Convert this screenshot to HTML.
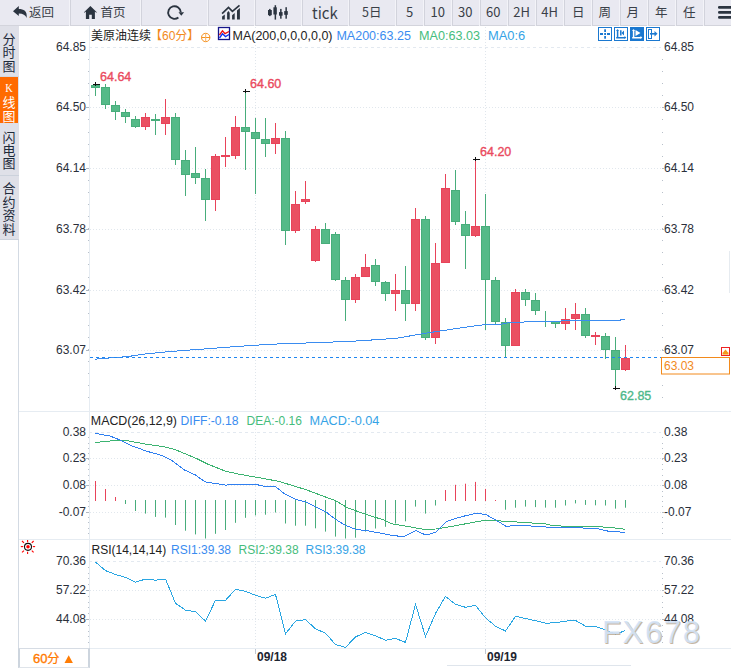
<!DOCTYPE html>
<html><head><meta charset="utf-8"><style>
html,body{margin:0;padding:0;background:#fff;width:731px;height:668px;overflow:hidden;position:relative}
#tb{position:absolute;left:0;top:0;width:731px;height:25px;background:#e9e9f1;border-bottom:1px solid #d3d4dc}
.tt{position:absolute;top:-1px;height:25px;line-height:25px;color:#3a3f48;font-family:"Noto Sans CJK SC","Liberation Sans",sans-serif;white-space:nowrap}
#sb{position:absolute;left:0;top:26px;width:19px;height:213px;background:#dfe0e8;border-bottom:1px solid #ccd2dc}
.tab{position:absolute;left:0;width:18px;text-align:center;font-family:"Noto Sans CJK SC",sans-serif;font-size:13px;line-height:13px;color:#1e2a3a}
svg text{font-family:"Liberation Sans",Arial,sans-serif}
.ax{font-size:12px;fill:#2a2f3a}
.hd{font-size:12px;fill:#222}
.cjk{font-family:"Liberation Sans","Noto Sans CJK SC",sans-serif !important}
.hi{font-size:12.5px;fill:#ea4a5e;stroke:#ea4a5e;stroke-width:0.35px}
.lo{font-size:12.5px;fill:#4db88a;stroke:#4db88a;stroke-width:0.35px}
.tag{font-size:12px;fill:#f28a1c}
.dt{font-size:12px;font-weight:bold;fill:#1e2530}
.wm{font-size:31px;letter-spacing:1.7px;font-family:"Liberation Sans",Arial,sans-serif}
</style></head><body>
<svg style="position:absolute;left:0;top:0" width="731" height="668" viewBox="0 0 731 668">
<rect x="18" y="239" width="1" height="429" fill="#d3dae3"/>
<rect x="89" y="26" width="1" height="622" fill="#e6ecf2"/>
<rect x="19" y="411" width="712" height="1" fill="#e6ecf2"/>
<rect x="19" y="539" width="712" height="1" fill="#e6ecf2"/>
<rect x="19" y="648" width="712" height="1" fill="#e6ecf2"/>
<line x1="89" y1="47.5" x2="661" y2="47.5" stroke="#e3e9f0" stroke-width="1" stroke-dasharray="3 3"/>
<line x1="90" y1="107.5" x2="661" y2="107.5" stroke="#e1e7ed" stroke-width="1" stroke-dasharray="1 2"/>
<line x1="90" y1="168.5" x2="661" y2="168.5" stroke="#e1e7ed" stroke-width="1" stroke-dasharray="1 2"/>
<line x1="90" y1="229.5" x2="661" y2="229.5" stroke="#e1e7ed" stroke-width="1" stroke-dasharray="1 2"/>
<line x1="90" y1="290.5" x2="661" y2="290.5" stroke="#e1e7ed" stroke-width="1" stroke-dasharray="1 2"/>
<line x1="90" y1="350.5" x2="661" y2="350.5" stroke="#e1e7ed" stroke-width="1" stroke-dasharray="1 2"/>
<line x1="89" y1="432.5" x2="661" y2="432.5" stroke="#e3e9f0" stroke-width="1" stroke-dasharray="3 3"/>
<line x1="90" y1="458.5" x2="661" y2="458.5" stroke="#e1e7ed" stroke-width="1" stroke-dasharray="1 2"/>
<line x1="90" y1="485.5" x2="661" y2="485.5" stroke="#e1e7ed" stroke-width="1" stroke-dasharray="1 2"/>
<line x1="90" y1="512.5" x2="661" y2="512.5" stroke="#e1e7ed" stroke-width="1" stroke-dasharray="1 2"/>
<line x1="89" y1="561.5" x2="661" y2="561.5" stroke="#e3e9f0" stroke-width="1" stroke-dasharray="3 3"/>
<line x1="90" y1="590.5" x2="661" y2="590.5" stroke="#e1e7ed" stroke-width="1" stroke-dasharray="1 2"/>
<line x1="90" y1="619.5" x2="661" y2="619.5" stroke="#e1e7ed" stroke-width="1" stroke-dasharray="1 2"/>
<line x1="255.5" y1="27" x2="255.5" y2="648" stroke="#e0e6ec" stroke-width="1" stroke-dasharray="1 2"/>
<rect x="255" y="649" width="1" height="5" fill="#c0c8d2"/>
<line x1="485.5" y1="27" x2="485.5" y2="648" stroke="#e0e6ec" stroke-width="1" stroke-dasharray="1 2"/>
<rect x="485" y="649" width="1" height="5" fill="#c0c8d2"/>
<rect x="88" y="59" width="1" height="1" fill="#b8c0ca"/>
<rect x="662" y="59" width="1" height="1" fill="#b8c0ca"/>
<rect x="88" y="71" width="1" height="1" fill="#b8c0ca"/>
<rect x="662" y="71" width="1" height="1" fill="#b8c0ca"/>
<rect x="88" y="83" width="1" height="1" fill="#b8c0ca"/>
<rect x="662" y="83" width="1" height="1" fill="#b8c0ca"/>
<rect x="88" y="95" width="1" height="1" fill="#b8c0ca"/>
<rect x="662" y="95" width="1" height="1" fill="#b8c0ca"/>
<rect x="88" y="107" width="1" height="1" fill="#b8c0ca"/>
<rect x="662" y="107" width="1" height="1" fill="#b8c0ca"/>
<rect x="88" y="119" width="1" height="1" fill="#b8c0ca"/>
<rect x="662" y="119" width="1" height="1" fill="#b8c0ca"/>
<rect x="88" y="132" width="1" height="1" fill="#b8c0ca"/>
<rect x="662" y="132" width="1" height="1" fill="#b8c0ca"/>
<rect x="88" y="144" width="1" height="1" fill="#b8c0ca"/>
<rect x="662" y="144" width="1" height="1" fill="#b8c0ca"/>
<rect x="88" y="156" width="1" height="1" fill="#b8c0ca"/>
<rect x="662" y="156" width="1" height="1" fill="#b8c0ca"/>
<rect x="88" y="168" width="1" height="1" fill="#b8c0ca"/>
<rect x="662" y="168" width="1" height="1" fill="#b8c0ca"/>
<rect x="88" y="180" width="1" height="1" fill="#b8c0ca"/>
<rect x="662" y="180" width="1" height="1" fill="#b8c0ca"/>
<rect x="88" y="192" width="1" height="1" fill="#b8c0ca"/>
<rect x="662" y="192" width="1" height="1" fill="#b8c0ca"/>
<rect x="88" y="204" width="1" height="1" fill="#b8c0ca"/>
<rect x="662" y="204" width="1" height="1" fill="#b8c0ca"/>
<rect x="88" y="216" width="1" height="1" fill="#b8c0ca"/>
<rect x="662" y="216" width="1" height="1" fill="#b8c0ca"/>
<rect x="88" y="228" width="1" height="1" fill="#b8c0ca"/>
<rect x="662" y="228" width="1" height="1" fill="#b8c0ca"/>
<rect x="88" y="240" width="1" height="1" fill="#b8c0ca"/>
<rect x="662" y="240" width="1" height="1" fill="#b8c0ca"/>
<rect x="88" y="252" width="1" height="1" fill="#b8c0ca"/>
<rect x="662" y="252" width="1" height="1" fill="#b8c0ca"/>
<rect x="88" y="264" width="1" height="1" fill="#b8c0ca"/>
<rect x="662" y="264" width="1" height="1" fill="#b8c0ca"/>
<rect x="88" y="277" width="1" height="1" fill="#b8c0ca"/>
<rect x="662" y="277" width="1" height="1" fill="#b8c0ca"/>
<rect x="88" y="289" width="1" height="1" fill="#b8c0ca"/>
<rect x="662" y="289" width="1" height="1" fill="#b8c0ca"/>
<rect x="88" y="301" width="1" height="1" fill="#b8c0ca"/>
<rect x="662" y="301" width="1" height="1" fill="#b8c0ca"/>
<rect x="88" y="313" width="1" height="1" fill="#b8c0ca"/>
<rect x="662" y="313" width="1" height="1" fill="#b8c0ca"/>
<rect x="88" y="325" width="1" height="1" fill="#b8c0ca"/>
<rect x="662" y="325" width="1" height="1" fill="#b8c0ca"/>
<rect x="88" y="337" width="1" height="1" fill="#b8c0ca"/>
<rect x="662" y="337" width="1" height="1" fill="#b8c0ca"/>
<rect x="88" y="349" width="1" height="1" fill="#b8c0ca"/>
<rect x="662" y="349" width="1" height="1" fill="#b8c0ca"/>
<rect x="88" y="361" width="1" height="1" fill="#b8c0ca"/>
<rect x="662" y="361" width="1" height="1" fill="#b8c0ca"/>
<rect x="88" y="373" width="1" height="1" fill="#b8c0ca"/>
<rect x="662" y="373" width="1" height="1" fill="#b8c0ca"/>
<rect x="88" y="385" width="1" height="1" fill="#b8c0ca"/>
<rect x="662" y="385" width="1" height="1" fill="#b8c0ca"/>
<rect x="88" y="397" width="1" height="1" fill="#b8c0ca"/>
<rect x="662" y="397" width="1" height="1" fill="#b8c0ca"/>
<rect x="86" y="107" width="3" height="1" fill="#b0b8c2"/>
<rect x="662" y="107" width="2" height="1" fill="#b0b8c2"/>
<rect x="86" y="168" width="3" height="1" fill="#b0b8c2"/>
<rect x="662" y="168" width="2" height="1" fill="#b0b8c2"/>
<rect x="86" y="229" width="3" height="1" fill="#b0b8c2"/>
<rect x="662" y="229" width="2" height="1" fill="#b0b8c2"/>
<rect x="86" y="290" width="3" height="1" fill="#b0b8c2"/>
<rect x="662" y="290" width="2" height="1" fill="#b0b8c2"/>
<rect x="86" y="350" width="3" height="1" fill="#b0b8c2"/>
<rect x="662" y="350" width="2" height="1" fill="#b0b8c2"/>
<rect x="88" y="437" width="1" height="1" fill="#b8c0ca"/>
<rect x="662" y="437" width="1" height="1" fill="#b8c0ca"/>
<rect x="88" y="443" width="1" height="1" fill="#b8c0ca"/>
<rect x="662" y="443" width="1" height="1" fill="#b8c0ca"/>
<rect x="88" y="448" width="1" height="1" fill="#b8c0ca"/>
<rect x="662" y="448" width="1" height="1" fill="#b8c0ca"/>
<rect x="88" y="453" width="1" height="1" fill="#b8c0ca"/>
<rect x="662" y="453" width="1" height="1" fill="#b8c0ca"/>
<rect x="88" y="459" width="1" height="1" fill="#b8c0ca"/>
<rect x="662" y="459" width="1" height="1" fill="#b8c0ca"/>
<rect x="88" y="464" width="1" height="1" fill="#b8c0ca"/>
<rect x="662" y="464" width="1" height="1" fill="#b8c0ca"/>
<rect x="88" y="469" width="1" height="1" fill="#b8c0ca"/>
<rect x="662" y="469" width="1" height="1" fill="#b8c0ca"/>
<rect x="88" y="475" width="1" height="1" fill="#b8c0ca"/>
<rect x="662" y="475" width="1" height="1" fill="#b8c0ca"/>
<rect x="88" y="480" width="1" height="1" fill="#b8c0ca"/>
<rect x="662" y="480" width="1" height="1" fill="#b8c0ca"/>
<rect x="88" y="485" width="1" height="1" fill="#b8c0ca"/>
<rect x="662" y="485" width="1" height="1" fill="#b8c0ca"/>
<rect x="88" y="491" width="1" height="1" fill="#b8c0ca"/>
<rect x="662" y="491" width="1" height="1" fill="#b8c0ca"/>
<rect x="88" y="496" width="1" height="1" fill="#b8c0ca"/>
<rect x="662" y="496" width="1" height="1" fill="#b8c0ca"/>
<rect x="88" y="501" width="1" height="1" fill="#b8c0ca"/>
<rect x="662" y="501" width="1" height="1" fill="#b8c0ca"/>
<rect x="88" y="506" width="1" height="1" fill="#b8c0ca"/>
<rect x="662" y="506" width="1" height="1" fill="#b8c0ca"/>
<rect x="88" y="512" width="1" height="1" fill="#b8c0ca"/>
<rect x="662" y="512" width="1" height="1" fill="#b8c0ca"/>
<rect x="88" y="517" width="1" height="1" fill="#b8c0ca"/>
<rect x="662" y="517" width="1" height="1" fill="#b8c0ca"/>
<rect x="88" y="522" width="1" height="1" fill="#b8c0ca"/>
<rect x="662" y="522" width="1" height="1" fill="#b8c0ca"/>
<rect x="88" y="528" width="1" height="1" fill="#b8c0ca"/>
<rect x="662" y="528" width="1" height="1" fill="#b8c0ca"/>
<rect x="88" y="533" width="1" height="1" fill="#b8c0ca"/>
<rect x="662" y="533" width="1" height="1" fill="#b8c0ca"/>
<rect x="86" y="458" width="3" height="1" fill="#b0b8c2"/>
<rect x="662" y="458" width="2" height="1" fill="#b0b8c2"/>
<rect x="86" y="485" width="3" height="1" fill="#b0b8c2"/>
<rect x="662" y="485" width="2" height="1" fill="#b0b8c2"/>
<rect x="86" y="512" width="3" height="1" fill="#b0b8c2"/>
<rect x="662" y="512" width="2" height="1" fill="#b0b8c2"/>
<rect x="88" y="567" width="1" height="1" fill="#b8c0ca"/>
<rect x="662" y="567" width="1" height="1" fill="#b8c0ca"/>
<rect x="88" y="573" width="1" height="1" fill="#b8c0ca"/>
<rect x="662" y="573" width="1" height="1" fill="#b8c0ca"/>
<rect x="88" y="578" width="1" height="1" fill="#b8c0ca"/>
<rect x="662" y="578" width="1" height="1" fill="#b8c0ca"/>
<rect x="88" y="584" width="1" height="1" fill="#b8c0ca"/>
<rect x="662" y="584" width="1" height="1" fill="#b8c0ca"/>
<rect x="88" y="590" width="1" height="1" fill="#b8c0ca"/>
<rect x="662" y="590" width="1" height="1" fill="#b8c0ca"/>
<rect x="88" y="596" width="1" height="1" fill="#b8c0ca"/>
<rect x="662" y="596" width="1" height="1" fill="#b8c0ca"/>
<rect x="88" y="602" width="1" height="1" fill="#b8c0ca"/>
<rect x="662" y="602" width="1" height="1" fill="#b8c0ca"/>
<rect x="88" y="607" width="1" height="1" fill="#b8c0ca"/>
<rect x="662" y="607" width="1" height="1" fill="#b8c0ca"/>
<rect x="88" y="613" width="1" height="1" fill="#b8c0ca"/>
<rect x="662" y="613" width="1" height="1" fill="#b8c0ca"/>
<rect x="88" y="619" width="1" height="1" fill="#b8c0ca"/>
<rect x="662" y="619" width="1" height="1" fill="#b8c0ca"/>
<rect x="88" y="625" width="1" height="1" fill="#b8c0ca"/>
<rect x="662" y="625" width="1" height="1" fill="#b8c0ca"/>
<rect x="88" y="631" width="1" height="1" fill="#b8c0ca"/>
<rect x="662" y="631" width="1" height="1" fill="#b8c0ca"/>
<rect x="88" y="636" width="1" height="1" fill="#b8c0ca"/>
<rect x="662" y="636" width="1" height="1" fill="#b8c0ca"/>
<rect x="88" y="642" width="1" height="1" fill="#b8c0ca"/>
<rect x="662" y="642" width="1" height="1" fill="#b8c0ca"/>
<rect x="86" y="590" width="3" height="1" fill="#b0b8c2"/>
<rect x="662" y="590" width="2" height="1" fill="#b0b8c2"/>
<rect x="86" y="619" width="3" height="1" fill="#b0b8c2"/>
<rect x="662" y="619" width="2" height="1" fill="#b0b8c2"/>
<text x="86" y="51.3" text-anchor="end" class="ax">64.85</text>
<text x="664" y="51.3" text-anchor="start" class="ax">64.85</text>
<text x="86" y="111.3" text-anchor="end" class="ax">64.50</text>
<text x="664" y="111.3" text-anchor="start" class="ax">64.50</text>
<text x="86" y="172.3" text-anchor="end" class="ax">64.14</text>
<text x="664" y="172.3" text-anchor="start" class="ax">64.14</text>
<text x="86" y="233.3" text-anchor="end" class="ax">63.78</text>
<text x="664" y="233.3" text-anchor="start" class="ax">63.78</text>
<text x="86" y="294.3" text-anchor="end" class="ax">63.42</text>
<text x="664" y="294.3" text-anchor="start" class="ax">63.42</text>
<text x="86" y="354.3" text-anchor="end" class="ax">63.07</text>
<text x="664" y="354.3" text-anchor="start" class="ax">63.07</text>
<text x="86" y="436.3" text-anchor="end" class="ax">0.38</text>
<text x="664" y="436.3" text-anchor="start" class="ax">0.38</text>
<text x="86" y="462.3" text-anchor="end" class="ax">0.23</text>
<text x="664" y="462.3" text-anchor="start" class="ax">0.23</text>
<text x="86" y="489.3" text-anchor="end" class="ax">0.08</text>
<text x="664" y="489.3" text-anchor="start" class="ax">0.08</text>
<text x="86" y="516.3" text-anchor="end" class="ax">-0.07</text>
<text x="664" y="516.3" text-anchor="start" class="ax">-0.07</text>
<text x="86" y="565.3" text-anchor="end" class="ax">70.36</text>
<text x="664" y="565.3" text-anchor="start" class="ax">70.36</text>
<text x="86" y="594.3" text-anchor="end" class="ax">57.22</text>
<text x="664" y="594.3" text-anchor="start" class="ax">57.22</text>
<text x="86" y="623.3" text-anchor="end" class="ax">44.08</text>
<text x="664" y="623.3" text-anchor="start" class="ax">44.08</text>
<rect x="95" y="84" width="1" height="12" fill="#48ad7b"/>
<rect x="91.5" y="85.5" width="8" height="2" fill="#55ba88" stroke="#48ad7b" stroke-width="1"/>
<rect x="105" y="84" width="1" height="25" fill="#48ad7b"/>
<rect x="101.5" y="87.5" width="8" height="17" fill="#55ba88" stroke="#48ad7b" stroke-width="1"/>
<rect x="115" y="101" width="1" height="19" fill="#48ad7b"/>
<rect x="111.5" y="105.5" width="8" height="6" fill="#55ba88" stroke="#48ad7b" stroke-width="1"/>
<rect x="125" y="109" width="1" height="14" fill="#48ad7b"/>
<rect x="121.5" y="112.5" width="8" height="4" fill="#55ba88" stroke="#48ad7b" stroke-width="1"/>
<rect x="135" y="116" width="1" height="12" fill="#48ad7b"/>
<rect x="131.5" y="119.5" width="8" height="7" fill="#55ba88" stroke="#48ad7b" stroke-width="1"/>
<rect x="145" y="113" width="1" height="17" fill="#e8435a"/>
<rect x="141.5" y="117.5" width="8" height="9" fill="#ea5062" stroke="#e8435a" stroke-width="1"/>
<rect x="155" y="114" width="1" height="21" fill="#48ad7b"/>
<rect x="151" y="119" width="9" height="2" fill="#48ad7b"/>
<rect x="165" y="99" width="1" height="36" fill="#e8435a"/>
<rect x="161.5" y="117.5" width="8" height="6" fill="#ea5062" stroke="#e8435a" stroke-width="1"/>
<rect x="175" y="113" width="1" height="52" fill="#48ad7b"/>
<rect x="171.5" y="117.5" width="8" height="42" fill="#55ba88" stroke="#48ad7b" stroke-width="1"/>
<rect x="185" y="150" width="1" height="46" fill="#48ad7b"/>
<rect x="181.5" y="160.5" width="8" height="14" fill="#55ba88" stroke="#48ad7b" stroke-width="1"/>
<rect x="195" y="147" width="1" height="37" fill="#48ad7b"/>
<rect x="191.5" y="173.5" width="8" height="4" fill="#55ba88" stroke="#48ad7b" stroke-width="1"/>
<rect x="205" y="169" width="1" height="52" fill="#48ad7b"/>
<rect x="201.5" y="178.5" width="8" height="21" fill="#55ba88" stroke="#48ad7b" stroke-width="1"/>
<rect x="215" y="154" width="1" height="57" fill="#e8435a"/>
<rect x="211.5" y="156.5" width="8" height="43" fill="#ea5062" stroke="#e8435a" stroke-width="1"/>
<rect x="225" y="137" width="1" height="30" fill="#e8435a"/>
<rect x="221" y="155" width="9" height="2" fill="#e8435a"/>
<rect x="235" y="116" width="1" height="43" fill="#e8435a"/>
<rect x="231.5" y="127.5" width="8" height="28" fill="#ea5062" stroke="#e8435a" stroke-width="1"/>
<rect x="245" y="91" width="1" height="79" fill="#48ad7b"/>
<rect x="241.5" y="127.5" width="8" height="4" fill="#55ba88" stroke="#48ad7b" stroke-width="1"/>
<rect x="255" y="118" width="1" height="76" fill="#48ad7b"/>
<rect x="251.5" y="132.5" width="8" height="6" fill="#55ba88" stroke="#48ad7b" stroke-width="1"/>
<rect x="265" y="118" width="1" height="39" fill="#48ad7b"/>
<rect x="261.5" y="139.5" width="8" height="4" fill="#55ba88" stroke="#48ad7b" stroke-width="1"/>
<rect x="275" y="123" width="1" height="31" fill="#e8435a"/>
<rect x="271.5" y="138.5" width="8" height="5" fill="#ea5062" stroke="#e8435a" stroke-width="1"/>
<rect x="285" y="131" width="1" height="114" fill="#48ad7b"/>
<rect x="281.5" y="138.5" width="8" height="92" fill="#55ba88" stroke="#48ad7b" stroke-width="1"/>
<rect x="295" y="191" width="1" height="42" fill="#e8435a"/>
<rect x="291.5" y="204.5" width="8" height="26" fill="#ea5062" stroke="#e8435a" stroke-width="1"/>
<rect x="305" y="181" width="1" height="23" fill="#e8435a"/>
<rect x="301.5" y="199.5" width="8" height="2" fill="#ea5062" stroke="#e8435a" stroke-width="1"/>
<rect x="315" y="226" width="1" height="36" fill="#e8435a"/>
<rect x="311.5" y="229.5" width="8" height="31" fill="#ea5062" stroke="#e8435a" stroke-width="1"/>
<rect x="325" y="223" width="1" height="21" fill="#48ad7b"/>
<rect x="321.5" y="229.5" width="8" height="14" fill="#55ba88" stroke="#48ad7b" stroke-width="1"/>
<rect x="335" y="232" width="1" height="49" fill="#48ad7b"/>
<rect x="331.5" y="234.5" width="8" height="45" fill="#55ba88" stroke="#48ad7b" stroke-width="1"/>
<rect x="345" y="277" width="1" height="44" fill="#48ad7b"/>
<rect x="341.5" y="280.5" width="8" height="19" fill="#55ba88" stroke="#48ad7b" stroke-width="1"/>
<rect x="355" y="274" width="1" height="29" fill="#e8435a"/>
<rect x="351.5" y="277.5" width="8" height="22" fill="#ea5062" stroke="#e8435a" stroke-width="1"/>
<rect x="365" y="254" width="1" height="23" fill="#e8435a"/>
<rect x="361.5" y="267.5" width="8" height="9" fill="#ea5062" stroke="#e8435a" stroke-width="1"/>
<rect x="375" y="259" width="1" height="27" fill="#48ad7b"/>
<rect x="371.5" y="265.5" width="8" height="16" fill="#55ba88" stroke="#48ad7b" stroke-width="1"/>
<rect x="385" y="281" width="1" height="20" fill="#48ad7b"/>
<rect x="381.5" y="282.5" width="8" height="11" fill="#55ba88" stroke="#48ad7b" stroke-width="1"/>
<rect x="395" y="274" width="1" height="37" fill="#e8435a"/>
<rect x="391.5" y="290.5" width="8" height="3" fill="#ea5062" stroke="#e8435a" stroke-width="1"/>
<rect x="405" y="266" width="1" height="55" fill="#48ad7b"/>
<rect x="401.5" y="290.5" width="8" height="13" fill="#55ba88" stroke="#48ad7b" stroke-width="1"/>
<rect x="415" y="208" width="1" height="103" fill="#e8435a"/>
<rect x="411.5" y="219.5" width="8" height="84" fill="#ea5062" stroke="#e8435a" stroke-width="1"/>
<rect x="425" y="216" width="1" height="124" fill="#48ad7b"/>
<rect x="421.5" y="219.5" width="8" height="118" fill="#55ba88" stroke="#48ad7b" stroke-width="1"/>
<rect x="435" y="243" width="1" height="101" fill="#e8435a"/>
<rect x="431.5" y="263.5" width="8" height="74" fill="#ea5062" stroke="#e8435a" stroke-width="1"/>
<rect x="445" y="174" width="1" height="89" fill="#e8435a"/>
<rect x="441.5" y="188.5" width="8" height="74" fill="#ea5062" stroke="#e8435a" stroke-width="1"/>
<rect x="455" y="170" width="1" height="55" fill="#48ad7b"/>
<rect x="451.5" y="190.5" width="8" height="31" fill="#55ba88" stroke="#48ad7b" stroke-width="1"/>
<rect x="465" y="211" width="1" height="58" fill="#48ad7b"/>
<rect x="461.5" y="224.5" width="8" height="11" fill="#55ba88" stroke="#48ad7b" stroke-width="1"/>
<rect x="475" y="159" width="1" height="78" fill="#e8435a"/>
<rect x="471.5" y="226.5" width="8" height="9" fill="#ea5062" stroke="#e8435a" stroke-width="1"/>
<rect x="485" y="194" width="1" height="136" fill="#48ad7b"/>
<rect x="481.5" y="226.5" width="8" height="53" fill="#55ba88" stroke="#48ad7b" stroke-width="1"/>
<rect x="495" y="277" width="1" height="47" fill="#48ad7b"/>
<rect x="491.5" y="280.5" width="8" height="41" fill="#55ba88" stroke="#48ad7b" stroke-width="1"/>
<rect x="505" y="318" width="1" height="40" fill="#48ad7b"/>
<rect x="501.5" y="322.5" width="8" height="23" fill="#55ba88" stroke="#48ad7b" stroke-width="1"/>
<rect x="515" y="289" width="1" height="57" fill="#e8435a"/>
<rect x="511.5" y="292.5" width="8" height="53" fill="#ea5062" stroke="#e8435a" stroke-width="1"/>
<rect x="525" y="289" width="1" height="17" fill="#48ad7b"/>
<rect x="521.5" y="292.5" width="8" height="7" fill="#55ba88" stroke="#48ad7b" stroke-width="1"/>
<rect x="535" y="293" width="1" height="22" fill="#48ad7b"/>
<rect x="531.5" y="300.5" width="8" height="10" fill="#55ba88" stroke="#48ad7b" stroke-width="1"/>
<rect x="545" y="311" width="1" height="16" fill="#48ad7b"/>
<rect x="541" y="321" width="9" height="1" fill="#48ad7b"/>
<rect x="555" y="321" width="1" height="7" fill="#48ad7b"/>
<rect x="551.5" y="321.5" width="8" height="2" fill="#55ba88" stroke="#48ad7b" stroke-width="1"/>
<rect x="565" y="308" width="1" height="22" fill="#e8435a"/>
<rect x="561.5" y="319.5" width="8" height="4" fill="#ea5062" stroke="#e8435a" stroke-width="1"/>
<rect x="575" y="303" width="1" height="27" fill="#e8435a"/>
<rect x="571.5" y="314.5" width="8" height="4" fill="#ea5062" stroke="#e8435a" stroke-width="1"/>
<rect x="585" y="308" width="1" height="30" fill="#48ad7b"/>
<rect x="581.5" y="314.5" width="8" height="21" fill="#55ba88" stroke="#48ad7b" stroke-width="1"/>
<rect x="595" y="332" width="1" height="13" fill="#e8435a"/>
<rect x="591" y="335" width="9" height="2" fill="#e8435a"/>
<rect x="605" y="333" width="1" height="26" fill="#48ad7b"/>
<rect x="601.5" y="336.5" width="8" height="13" fill="#55ba88" stroke="#48ad7b" stroke-width="1"/>
<rect x="615" y="337" width="1" height="51" fill="#48ad7b"/>
<rect x="611.5" y="350.5" width="8" height="19" fill="#55ba88" stroke="#48ad7b" stroke-width="1"/>
<rect x="625" y="345" width="1" height="26" fill="#e8435a"/>
<rect x="621.5" y="358.5" width="8" height="11" fill="#ea5062" stroke="#e8435a" stroke-width="1"/>
<polyline points="95.0,359.2 129.0,356.4 143.0,354.2 170.0,351.5 197.0,349.5 225.0,347.4 252.0,345.4 288.0,343.4 315.0,342.8 359.0,340.9 397.0,338.2 425.0,333.3 452.0,329.2 478.0,325.4 488.0,324.3 500.0,324.3 510.0,322.5 530.0,321.8 560.0,321.5 562.0,320.7 620.0,320.5 621.0,319.6 625.0,319.4" fill="none" stroke="#3a8cf0" stroke-width="1" shape-rendering="crispEdges"/>
<line x1="90" y1="357.5" x2="661" y2="357.5" stroke="#1f86f0" stroke-width="1" stroke-dasharray="3 3"/>
<rect x="93" y="84" width="7" height="1" fill="#111"/>
<rect x="95" y="82" width="1" height="4" fill="#111"/>
<rect x="243" y="91" width="7" height="1" fill="#111"/>
<rect x="245" y="89" width="1" height="4" fill="#111"/>
<rect x="473" y="159" width="7" height="1" fill="#111"/>
<rect x="475" y="157" width="1" height="4" fill="#111"/>
<rect x="613" y="388" width="7" height="1" fill="#111"/>
<rect x="615" y="386" width="1" height="4" fill="#111"/>
<text x="100" y="81" class="hi">64.64</text>
<text x="250" y="88" class="hi">64.60</text>
<text x="480" y="156" class="hi">64.20</text>
<text x="620" y="400" class="lo">62.85</text>
<rect x="661.5" y="357.5" width="68" height="16.5" fill="#fff" stroke="#f28a1c" stroke-width="1"/>
<text x="664" y="370" class="tag">63.03</text>
<rect x="721.5" y="347.5" width="8" height="8" fill="#fff" stroke="#ee2222" stroke-width="1"/>
<path d="M722.6 353 L725.5 349.6 L728.4 353 Z" fill="#f39a1d"/><rect x="722.5" y="352.6" width="6" height="2" fill="#f39a1d"/>
<rect x="95" y="481.0" width="1" height="20.0" fill="#e8435a"/>
<rect x="105" y="489.0" width="1" height="12.0" fill="#e8435a"/>
<rect x="115" y="497.0" width="1" height="4.0" fill="#e8435a"/>
<rect x="125" y="500" width="1" height="4.0" fill="#48ad7b"/>
<rect x="135" y="500" width="1" height="11.0" fill="#48ad7b"/>
<rect x="145" y="500" width="1" height="13.6" fill="#48ad7b"/>
<rect x="155" y="500" width="1" height="16.9" fill="#48ad7b"/>
<rect x="165" y="500" width="1" height="17.6" fill="#48ad7b"/>
<rect x="175" y="500" width="1" height="25.0" fill="#48ad7b"/>
<rect x="185" y="500" width="1" height="30.7" fill="#48ad7b"/>
<rect x="195" y="500" width="1" height="34.4" fill="#48ad7b"/>
<rect x="205" y="500" width="1" height="38.5" fill="#48ad7b"/>
<rect x="215" y="500" width="1" height="33.8" fill="#48ad7b"/>
<rect x="225" y="500" width="1" height="30.0" fill="#48ad7b"/>
<rect x="235" y="500" width="1" height="22.8" fill="#48ad7b"/>
<rect x="245" y="500" width="1" height="17.8" fill="#48ad7b"/>
<rect x="255" y="500" width="1" height="15.4" fill="#48ad7b"/>
<rect x="265" y="500" width="1" height="14.7" fill="#48ad7b"/>
<rect x="275" y="500" width="1" height="12.5" fill="#48ad7b"/>
<rect x="285" y="500" width="1" height="23.5" fill="#48ad7b"/>
<rect x="295" y="500" width="1" height="25.7" fill="#48ad7b"/>
<rect x="305" y="500" width="1" height="25.7" fill="#48ad7b"/>
<rect x="315" y="500" width="1" height="28.3" fill="#48ad7b"/>
<rect x="325" y="500" width="1" height="31.6" fill="#48ad7b"/>
<rect x="335" y="500" width="1" height="36.6" fill="#48ad7b"/>
<rect x="345" y="500" width="1" height="38.5" fill="#48ad7b"/>
<rect x="355" y="500" width="1" height="37.7" fill="#48ad7b"/>
<rect x="365" y="500" width="1" height="31.6" fill="#48ad7b"/>
<rect x="375" y="500" width="1" height="28.5" fill="#48ad7b"/>
<rect x="385" y="500" width="1" height="26.8" fill="#48ad7b"/>
<rect x="395" y="500" width="1" height="23.5" fill="#48ad7b"/>
<rect x="405" y="500" width="1" height="21.3" fill="#48ad7b"/>
<rect x="415" y="500" width="1" height="6.6" fill="#48ad7b"/>
<rect x="425" y="500" width="1" height="13.6" fill="#48ad7b"/>
<rect x="435" y="500" width="1" height="5.5" fill="#48ad7b"/>
<rect x="445" y="490.0" width="1" height="11.0" fill="#e8435a"/>
<rect x="455" y="484.8" width="1" height="16.2" fill="#e8435a"/>
<rect x="465" y="483.7" width="1" height="17.3" fill="#e8435a"/>
<rect x="475" y="481.9" width="1" height="19.1" fill="#e8435a"/>
<rect x="485" y="488.9" width="1" height="12.1" fill="#e8435a"/>
<rect x="495" y="500.0" width="1" height="1.0" fill="#e8435a"/>
<rect x="505" y="500" width="1" height="9.7" fill="#48ad7b"/>
<rect x="515" y="500" width="1" height="7.7" fill="#48ad7b"/>
<rect x="525" y="500" width="1" height="6.6" fill="#48ad7b"/>
<rect x="535" y="500" width="1" height="7.1" fill="#48ad7b"/>
<rect x="545" y="500" width="1" height="7.6" fill="#48ad7b"/>
<rect x="555" y="500" width="1" height="7.7" fill="#48ad7b"/>
<rect x="565" y="500" width="1" height="5.5" fill="#48ad7b"/>
<rect x="575" y="500" width="1" height="3.4" fill="#48ad7b"/>
<rect x="585" y="500" width="1" height="4.9" fill="#48ad7b"/>
<rect x="595" y="500" width="1" height="5.3" fill="#48ad7b"/>
<rect x="605" y="500" width="1" height="5.5" fill="#48ad7b"/>
<rect x="615" y="500" width="1" height="8.6" fill="#48ad7b"/>
<rect x="625" y="500" width="1" height="7.7" fill="#48ad7b"/>
<polyline points="95.0,442.5 116.5,440.3 125.2,440.3 142.7,443.6 164.6,446.9 175.5,449.7 197.4,458.9 208.4,464.4 225.9,471.4 241.2,474.6 261.9,478.2 279.4,481.5 305.7,489.6 336.3,501.0 347.2,507.7 367.0,514.7 384.5,520.2 392.0,523.9 405.1,526.1 424.8,529.4 435.8,529.0 455.5,525.7 475.2,522.0 486.1,520.2 494.9,520.6 505.8,521.3 523.3,522.4 545.2,523.9 551.0,525.2 561.9,526.1 590.3,526.3 610.0,527.4 625.0,529.2" fill="none" stroke="#3cb371" stroke-width="1" shape-rendering="crispEdges"/>
<polyline points="95.0,433.3 109.9,436.0 120.8,440.3 131.8,445.8 147.0,451.3 162.4,455.6 171.2,460.0 184.3,469.9 195.2,474.9 205.1,481.9 214.9,483.4 225.9,485.2 232.5,484.1 248.0,484.1 256.4,484.5 264.1,486.3 275.0,486.3 284.9,494.0 295.8,499.4 305.7,502.0 325.4,511.5 335.2,519.1 345.1,525.2 356.0,529.4 367.0,530.7 384.5,533.8 392.0,535.5 404.0,536.6 415.6,530.5 425.9,535.1 435.8,532.2 446.7,521.3 455.5,518.5 465.3,515.8 476.3,513.2 486.1,514.7 496.0,520.2 505.8,526.1 525.5,525.7 545.2,526.8 551.0,527.9 570.6,527.4 581.6,527.9 599.1,529.0 610.0,531.6 625.0,532.2" fill="none" stroke="#2f7ff0" stroke-width="1" shape-rendering="crispEdges"/>
<polyline points="95.5,562.0 105.5,570.6 115.5,574.5 125.5,577.4 135.5,582.2 145.5,579.1 155.5,580.2 165.5,579.1 175.5,603.2 185.5,610.2 195.5,611.7 205.5,621.1 215.5,600.3 225.5,600.3 235.5,589.4 245.5,591.4 255.5,595.3 265.5,598.2 275.5,594.4 285.5,633.8 295.5,621.1 305.5,619.6 315.5,628.8 325.5,633.2 335.5,644.5 345.5,647.4 355.5,636.9 365.5,632.5 375.5,635.8 385.5,640.2 395.5,638.4 405.5,642.4 415.5,604.3 425.5,636.5 435.5,613.5 445.5,596.4 455.5,604.3 465.5,607.3 475.5,605.4 485.5,617.8 495.5,626.2 505.5,631.0 515.5,616.3 525.5,618.5 535.5,620.7 545.5,623.1 555.5,622.9 565.5,621.1 575.5,620.5 585.5,626.2 595.5,626.6 605.5,629.9 615.5,634.3 625.5,630.5" fill="none" stroke="#2aa6e2" stroke-width="1" shape-rendering="crispEdges"/>
<text x="91" y="40.2" class="hd cjk">美原油连续</text>
<text x="150" y="40.2" class="hd cjk" style="fill:#f28a1c">【60分】</text>
<circle cx="205.7" cy="37.5" r="4.2" fill="none" stroke="#f5901e" stroke-width="1"/>
<line x1="201.5" y1="37.5" x2="210" y2="37.5" stroke="#f5901e" stroke-width="1"/><line x1="205.7" y1="33.3" x2="205.7" y2="41.7" stroke="#f8b060" stroke-width="1"/>
<rect x="219" y="28" width="11" height="12" fill="#7a7a9a"/><rect x="218.5" y="27.5" width="11" height="12" fill="#fff" stroke="#15158a" stroke-width="1.3"/>
<polyline points="219.5,35 222.5,30.8 225,33.6 229,31.5" fill="none" stroke="#f01010" stroke-width="1.3"/>
<polyline points="219.5,38 222.5,33.8 225.5,36.6 229,34.5" fill="none" stroke="#1030f0" stroke-width="1.3"/>
<text x="232.5" y="39.5" class="hd" textLength="100" lengthAdjust="spacingAndGlyphs">MA(200,0,0,0,0,0)</text>
<text x="336.4" y="39.5" class="hd" style="fill:#3a8cf0" textLength="74.5" lengthAdjust="spacingAndGlyphs">MA200:63.25</text>
<text x="419" y="39.5" class="hd" style="fill:#45bd7c" textLength="61" lengthAdjust="spacingAndGlyphs">MA0:63.03</text>
<text x="488" y="39.5" class="hd" style="fill:#35a3e6" textLength="37.3" lengthAdjust="spacingAndGlyphs">MA0:6</text>
<text x="90.8" y="425" class="hd" textLength="86.2" lengthAdjust="spacingAndGlyphs">MACD(26,12,9)</text>
<text x="180.5" y="425" class="hd" style="fill:#3a8cf0" textLength="58" lengthAdjust="spacingAndGlyphs">DIFF:-0.18</text>
<text x="246.5" y="425" class="hd" style="fill:#45bd7c">DEA:-0.16</text>
<text x="309.6" y="425" class="hd" style="fill:#35a3e6" textLength="69.8" lengthAdjust="spacingAndGlyphs">MACD:-0.04</text>
<text x="91.5" y="554" class="hd">RSI(14,14,14)</text>
<text x="171" y="554" class="hd" style="fill:#3a8cf0">RSI1:39.38</text>
<text x="238.6" y="554" class="hd" style="fill:#45bd7c">RSI2:39.38</text>
<text x="305.5" y="554" class="hd" style="fill:#35a3e6">RSI3:39.38</text>
<circle cx="28" cy="546.85" r="3.5" fill="#fff" stroke="#111" stroke-width="1.1"/><circle cx="28" cy="546.85" r="1.75" fill="#f00"/>
<line x1="27.6" y1="540" x2="27.6" y2="542.2" stroke="#f00" stroke-width="1.1"/>
<line x1="27.6" y1="551.8" x2="27.6" y2="554" stroke="#f00" stroke-width="1.1"/>
<line x1="20.8" y1="546.6" x2="23.2" y2="546.6" stroke="#f00" stroke-width="1.1"/>
<line x1="32.8" y1="546.6" x2="35.1" y2="546.6" stroke="#f00" stroke-width="1.1"/>
<line x1="22" y1="541" x2="24" y2="542.9" stroke="#f00" stroke-width="1.1"/>
<line x1="33.6" y1="541" x2="31.8" y2="542.9" stroke="#f00" stroke-width="1.1"/>
<line x1="22" y1="552.4" x2="24" y2="550.6" stroke="#f00" stroke-width="1.1"/>
<line x1="33.6" y1="552.4" x2="31.8" y2="550.6" stroke="#f00" stroke-width="1.1"/>
<rect x="598.5" y="27.5" width="13" height="13" fill="#fff" stroke="#1a78d0" stroke-width="1"/>
<g fill="#1a78d0"><rect x="600" y="33" width="3" height="2"/><rect x="604.2" y="33" width="1.8" height="2"/><rect x="607" y="33" width="3" height="2"/><rect x="604.2" y="29.3" width="1.8" height="2.7"/><rect x="604.2" y="36" width="1.8" height="2.7"/></g>
<rect x="614.5" y="27.5" width="13" height="13" fill="#fff" stroke="#1a78d0" stroke-width="1"/>
<path d="M617.6 29.8v8.6M616.2 37.7h9M620.8 30.3v5.2" stroke="#1a78d0" stroke-width="1.5" fill="none"/><path d="M616 31l1.5-1.8 1.5 1.8zM624.5 36l1.8 1.5-1.8 1.5zM621.5 33l2.5-2.5v5z" fill="#1a78d0"/>
<rect x="630" y="27" width="14" height="14" fill="#1a78d0"/>
<path d="M633.6 29.8v8.6M632.2 37.7h9" stroke="#fff" stroke-width="1.5" fill="none"/><path d="M632 31l1.5-1.8 1.5 1.8zM640.5 36l1.8 1.5-1.8 1.5zM635.5 30v6l5-3z" fill="#fff"/>
<rect x="646.5" y="27.5" width="13" height="13" fill="#fff" stroke="#1a78d0" stroke-width="1"/>
<rect x="648.5" y="29.5" width="3" height="9" fill="none" stroke="#1a78d0" stroke-width="1"/><path d="M650 33.8h5" stroke="#1a78d0" stroke-width="1.6"/><path d="M654.5 31l3 2.8-3 2.8z" fill="#1a78d0"/>
<text x="257" y="661" class="dt">09/18</text>
<text x="487" y="661" class="dt">09/19</text>
<rect x="447" y="665" width="184" height="1" fill="#dfe5ec"/>
<rect x="729" y="251" width="1" height="42" fill="#e6ebf0"/>
<text x="602.9" y="643.6" class="wm" style="fill:#b9a48c;opacity:0.8">FX678</text>
<text x="601.9" y="642.6" class="wm" style="fill:#d3e3f7;opacity:0.9">FX678</text>
</svg>
<div id="tb">
<div style="position:absolute;left:69px;top:0;width:1px;height:26px;background:#f3f3f8"></div>
<div style="position:absolute;left:70px;top:0;width:1px;height:25px;background:#d2d3dc"></div>
<div style="position:absolute;left:140px;top:0;width:1px;height:26px;background:#f3f3f8"></div>
<div style="position:absolute;left:141px;top:0;width:1px;height:25px;background:#d2d3dc"></div>
<div style="position:absolute;left:207px;top:0;width:1px;height:26px;background:#f3f3f8"></div>
<div style="position:absolute;left:208px;top:0;width:1px;height:25px;background:#d2d3dc"></div>
<div style="position:absolute;left:254px;top:0;width:1px;height:26px;background:#f3f3f8"></div>
<div style="position:absolute;left:255px;top:0;width:1px;height:25px;background:#d2d3dc"></div>
<div style="position:absolute;left:301px;top:0;width:1px;height:26px;background:#f3f3f8"></div>
<div style="position:absolute;left:302px;top:0;width:1px;height:25px;background:#d2d3dc"></div>
<div style="position:absolute;left:348px;top:0;width:1px;height:26px;background:#f3f3f8"></div>
<div style="position:absolute;left:349px;top:0;width:1px;height:25px;background:#d2d3dc"></div>
<div style="position:absolute;left:395px;top:0;width:1px;height:26px;background:#f3f3f8"></div>
<div style="position:absolute;left:396px;top:0;width:1px;height:25px;background:#d2d3dc"></div>
<div style="position:absolute;left:423px;top:0;width:1px;height:26px;background:#f3f3f8"></div>
<div style="position:absolute;left:424px;top:0;width:1px;height:25px;background:#d2d3dc"></div>
<div style="position:absolute;left:451px;top:0;width:1px;height:26px;background:#f3f3f8"></div>
<div style="position:absolute;left:452px;top:0;width:1px;height:25px;background:#d2d3dc"></div>
<div style="position:absolute;left:479px;top:0;width:1px;height:26px;background:#f3f3f8"></div>
<div style="position:absolute;left:480px;top:0;width:1px;height:25px;background:#d2d3dc"></div>
<div style="position:absolute;left:507px;top:0;width:1px;height:26px;background:#f3f3f8"></div>
<div style="position:absolute;left:508px;top:0;width:1px;height:25px;background:#d2d3dc"></div>
<div style="position:absolute;left:535px;top:0;width:1px;height:26px;background:#f3f3f8"></div>
<div style="position:absolute;left:536px;top:0;width:1px;height:25px;background:#d2d3dc"></div>
<div style="position:absolute;left:563px;top:0;width:1px;height:26px;background:#f3f3f8"></div>
<div style="position:absolute;left:564px;top:0;width:1px;height:25px;background:#d2d3dc"></div>
<div style="position:absolute;left:591px;top:0;width:1px;height:26px;background:#f3f3f8"></div>
<div style="position:absolute;left:592px;top:0;width:1px;height:25px;background:#d2d3dc"></div>
<div style="position:absolute;left:619px;top:0;width:1px;height:26px;background:#f3f3f8"></div>
<div style="position:absolute;left:620px;top:0;width:1px;height:25px;background:#d2d3dc"></div>
<div style="position:absolute;left:647px;top:0;width:1px;height:26px;background:#f3f3f8"></div>
<div style="position:absolute;left:648px;top:0;width:1px;height:25px;background:#d2d3dc"></div>
<div style="position:absolute;left:675px;top:0;width:1px;height:26px;background:#f3f3f8"></div>
<div style="position:absolute;left:676px;top:0;width:1px;height:25px;background:#d2d3dc"></div>
<div style="position:absolute;left:703px;top:0;width:1px;height:26px;background:#f3f3f8"></div>
<div style="position:absolute;left:704px;top:0;width:1px;height:25px;background:#d2d3dc"></div>
<div class="tt" style="left:29px;font-size:12.5px;">返回</div>
<div class="tt" style="left:100.5px;font-size:12.5px;">首页</div>
<div class="tt" style="left:312px;font-size:15px;top:-0.2px">tick</div>
<div class="tt" style="left:362px;font-size:12.5px;">5日</div>
<div class="tt" style="left:406px;font-size:13px;">5</div>
<div class="tt" style="left:430.5px;font-size:13px;">10</div>
<div class="tt" style="left:458px;font-size:13px;">30</div>
<div class="tt" style="left:486px;font-size:13px;">60</div>
<div class="tt" style="left:513.3px;font-size:13px;">2H</div>
<div class="tt" style="left:541.3px;font-size:13px;">4H</div>
<div class="tt" style="left:572px;font-size:12.5px;">日</div>
<div class="tt" style="left:598.5px;font-size:12.5px;">周</div>
<div class="tt" style="left:626.5px;font-size:12.5px;">月</div>
<div class="tt" style="left:655px;font-size:12.5px;">年</div>
<div class="tt" style="left:683px;font-size:12.5px;">任</div>
</div>

<svg style="position:absolute;left:0;top:0" width="731" height="26" viewBox="0 0 731 26">
<path d="M13,11.3 L18.8,6.1 L18.8,9 C23.5,9 27.6,11 26.6,17.9 C25.6,15.2 23,13.5 18.8,13.5 L18.8,15.9 Z" fill="#2b3440"/>
<path d="M90.4,5.9 L96.8,12.2 L96.2,12.8 L94.9,11.6 L94.9,18.9 L91.8,18.9 L91.8,14.8 L89.2,14.8 L89.2,18.9 L85.9,18.9 L85.9,11.6 L84.6,12.8 L84,12.2 Z" fill="#2b3440"/>
<path d="M178.4,17.5 A6.3,6.3 0 1 1 180.8,12.2" fill="none" stroke="#2b3440" stroke-width="1.9"/>
<path d="M178.5,12.2 L184.1,12.2 L181.3,15.8 Z" fill="#2b3440"/>
<path d="M222.1,19.6 V16.6 L224.8,14.6 V19.6 Z M227.1,19.6 V12.8 L228.4,11.1 L229.7,12.8 V19.6 Z M232.1,19.6 V15.2 L234.7,13 V19.6 Z M237,19.6 V10.4 L239.9,8 V19.6 Z" fill="#2b3440"/>
<path d="M222.1,13.7 L228.5,7.5 L232.4,11.3 L239.5,5.4" fill="none" stroke="#2b3440" stroke-width="1.7"/>
<g fill="#2b3440"><rect x="268" y="10" width="3.8" height="5.2"/><rect x="269.1" y="8.9" width="1.5" height="7.2"/>
<rect x="273.4" y="7.3" width="3.4" height="7.2"/><rect x="274.6" y="5.2" width="1.5" height="14.4"/>
<rect x="279" y="12.1" width="3.6" height="3.6"/><rect x="280.1" y="8.9" width="1.5" height="9.8"/>
<rect x="284.2" y="11.1" width="3.6" height="3.7"/><rect x="285.4" y="7.2" width="1.5" height="11.5"/></g>
<rect x="718" y="6" width="15" height="2.7" rx="1.3" fill="#2b3440"/>
<rect x="718" y="11.1" width="15" height="2.7" rx="1.3" fill="#2b3440"/>
<rect x="718" y="16.1" width="15" height="2.7" rx="1.3" fill="#2b3440"/>
</svg>
<div id="sb">
<div style="position:absolute;left:0;top:51px;width:18px;height:46px;background:#ff6a00"></div>
<div class="tab" style="top:6.0px;color:#1e2a3a">分</div>
<div class="tab" style="top:19.2px;color:#1e2a3a">时</div>
<div class="tab" style="top:32.5px;color:#1e2a3a">图</div>
<div class="tab" style="top:69.0px;color:#fff">线</div>
<div class="tab" style="top:83.0px;color:#fff">图</div>
<div class="tab" style="top:103.7px;color:#1e2a3a">闪</div>
<div class="tab" style="top:117.0px;color:#1e2a3a">电</div>
<div class="tab" style="top:130.3px;color:#1e2a3a">图</div>
<div class="tab" style="top:155.4px;color:#1e2a3a">合</div>
<div class="tab" style="top:168.8px;color:#1e2a3a">约</div>
<div class="tab" style="top:182.3px;color:#1e2a3a">资</div>
<div class="tab" style="top:195.8px;color:#1e2a3a">料</div>
<div class="tab" style="top:55.0px;color:#fff;font-family:'Liberation Serif',serif;transform:scaleX(0.8);left:-0.3px">K</div>
<div style="position:absolute;left:0;top:50px;width:19px;height:1px;background:#d3d8e0"></div>
<div style="position:absolute;left:0;top:149px;width:19px;height:1px;background:#ccd2dc"></div>
</div>
<div style="position:absolute;left:18px;top:648px;width:68px;height:18px;border-top:1px solid #d6dce4;border-left:2px solid #cdd5de;border-right:2px solid #cdd5de;border-bottom:1px solid #dfe4ea;background:#fff"></div>
<div style="position:absolute;left:33px;top:649.7px;height:18px;line-height:18px;color:#ff7a00;font-family:'Liberation Sans',sans-serif;font-size:13px;-webkit-text-stroke:0.35px #ff7a00">60</div>
<div style="position:absolute;left:47px;top:649px;height:18px;line-height:18px;color:#ff7a00;font-family:'Noto Sans CJK SC',sans-serif;font-size:12.5px;-webkit-text-stroke:0.2px #ff7a00">分</div>
<svg style="position:absolute;left:0;top:0" width="731" height="668"><path d="M64.5 663 L68.7 655.2 L72.9 663 Z" fill="#ff7d05"/></svg>
</body></html>
